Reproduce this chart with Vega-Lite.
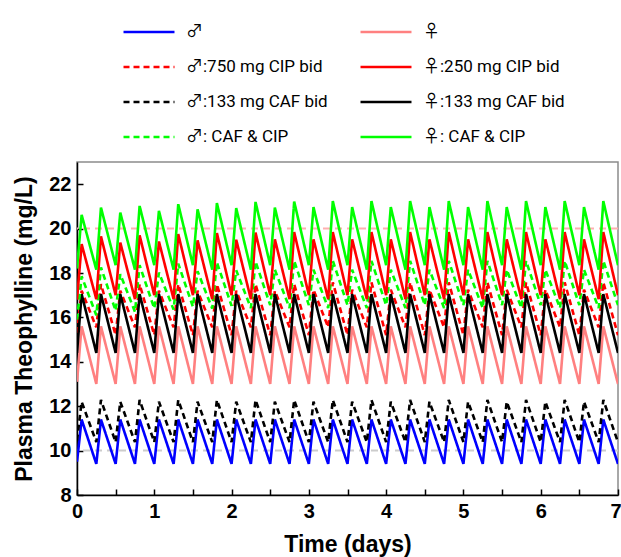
{
"$schema":"https://vega.github.io/schema/vega-lite/v6.json",
"width":541,"height":333,
"autosize":{"type":"none"},
"padding":{"left":77,"top":162,"right":3,"bottom":62},
"background":"white",
"config":{
"view":{"stroke":"#8c8c8c","strokeWidth":1.5},
"font":"Liberation Sans",
"axis":{"domainColor":"#000","domainWidth":1.5,"tickColor":"#000","tickWidth":1.5,"tickSize":-6,"labelFont":"Liberation Sans","labelFontWeight":"bold","labelFontSize":20,"labelColor":"#000","titleFont":"Liberation Sans","titleFontSize":23,"titleFontWeight":"bold","titleColor":"#000","grid":false},
"legend":{"orient":"none","legendX":45,"legendY":-157,"columns":2,"symbolType":"stroke","symbolSize":2600,"symbolStrokeWidth":2.5,"labelFontSize":17,"labelFont":"Roboto, 'Noto Sans CJK SC'","labelColor":"#000","labelOffset":10,"rowPadding":-11.2,"columnPadding":27,"padding":0,"labelLimit":0}
},
"datasets":{
"limits":[{"limit":"lower","level":10},{"limit":"upper","level":20}],
"curves":[
{"s":"♂","t":0,"v":9.5},{"s":"♂","t":0.06,"v":11.4},{"s":"♂","t":0.25,"v":9.4},{"s":"♂","t":0.31,"v":11.4},{"s":"♂","t":0.5,"v":9.4},{"s":"♂","t":0.56,"v":11.4},{"s":"♂","t":0.75,"v":9.4},{"s":"♂","t":0.81,"v":11.4},{"s":"♂","t":1,"v":9.4},{"s":"♂","t":1.06,"v":11.4},{"s":"♂","t":1.25,"v":9.4},{"s":"♂","t":1.31,"v":11.4},{"s":"♂","t":1.5,"v":9.4},{"s":"♂","t":1.56,"v":11.4},{"s":"♂","t":1.75,"v":9.4},{"s":"♂","t":1.81,"v":11.4},{"s":"♂","t":2,"v":9.4},{"s":"♂","t":2.06,"v":11.4},{"s":"♂","t":2.25,"v":9.4},{"s":"♂","t":2.31,"v":11.4},{"s":"♂","t":2.5,"v":9.4},{"s":"♂","t":2.56,"v":11.4},{"s":"♂","t":2.75,"v":9.4},{"s":"♂","t":2.81,"v":11.4},{"s":"♂","t":3,"v":9.4},{"s":"♂","t":3.06,"v":11.4},{"s":"♂","t":3.25,"v":9.4},{"s":"♂","t":3.31,"v":11.4},{"s":"♂","t":3.5,"v":9.4},{"s":"♂","t":3.56,"v":11.4},{"s":"♂","t":3.75,"v":9.4},{"s":"♂","t":3.81,"v":11.4},{"s":"♂","t":4,"v":9.4},{"s":"♂","t":4.06,"v":11.4},{"s":"♂","t":4.25,"v":9.4},{"s":"♂","t":4.31,"v":11.4},{"s":"♂","t":4.5,"v":9.4},{"s":"♂","t":4.56,"v":11.4},{"s":"♂","t":4.75,"v":9.4},{"s":"♂","t":4.81,"v":11.4},{"s":"♂","t":5,"v":9.4},{"s":"♂","t":5.06,"v":11.4},{"s":"♂","t":5.25,"v":9.4},{"s":"♂","t":5.31,"v":11.4},{"s":"♂","t":5.5,"v":9.4},{"s":"♂","t":5.56,"v":11.4},{"s":"♂","t":5.75,"v":9.4},{"s":"♂","t":5.81,"v":11.4},{"s":"♂","t":6,"v":9.4},{"s":"♂","t":6.06,"v":11.4},{"s":"♂","t":6.25,"v":9.4},{"s":"♂","t":6.31,"v":11.4},{"s":"♂","t":6.5,"v":9.4},{"s":"♂","t":6.56,"v":11.4},{"s":"♂","t":6.75,"v":9.4},{"s":"♂","t":6.81,"v":11.4},{"s":"♂","t":7,"v":9.4},
{"s":"♂:133 mg CAF bid","t":0,"v":10.45},{"s":"♂:133 mg CAF bid","t":0.06,"v":12.2},{"s":"♂:133 mg CAF bid","t":0.25,"v":10.38},{"s":"♂:133 mg CAF bid","t":0.31,"v":12.28},{"s":"♂:133 mg CAF bid","t":0.5,"v":10.38},{"s":"♂:133 mg CAF bid","t":0.56,"v":12.2},{"s":"♂:133 mg CAF bid","t":0.75,"v":10.38},{"s":"♂:133 mg CAF bid","t":0.81,"v":12.28},{"s":"♂:133 mg CAF bid","t":1,"v":10.38},{"s":"♂:133 mg CAF bid","t":1.06,"v":12.2},{"s":"♂:133 mg CAF bid","t":1.25,"v":10.38},{"s":"♂:133 mg CAF bid","t":1.31,"v":12.28},{"s":"♂:133 mg CAF bid","t":1.5,"v":10.38},{"s":"♂:133 mg CAF bid","t":1.56,"v":12.2},{"s":"♂:133 mg CAF bid","t":1.75,"v":10.38},{"s":"♂:133 mg CAF bid","t":1.81,"v":12.28},{"s":"♂:133 mg CAF bid","t":2,"v":10.38},{"s":"♂:133 mg CAF bid","t":2.06,"v":12.2},{"s":"♂:133 mg CAF bid","t":2.25,"v":10.38},{"s":"♂:133 mg CAF bid","t":2.31,"v":12.28},{"s":"♂:133 mg CAF bid","t":2.5,"v":10.38},{"s":"♂:133 mg CAF bid","t":2.56,"v":12.2},{"s":"♂:133 mg CAF bid","t":2.75,"v":10.38},{"s":"♂:133 mg CAF bid","t":2.81,"v":12.28},{"s":"♂:133 mg CAF bid","t":3,"v":10.38},{"s":"♂:133 mg CAF bid","t":3.06,"v":12.2},{"s":"♂:133 mg CAF bid","t":3.25,"v":10.38},{"s":"♂:133 mg CAF bid","t":3.31,"v":12.28},{"s":"♂:133 mg CAF bid","t":3.5,"v":10.38},{"s":"♂:133 mg CAF bid","t":3.56,"v":12.2},{"s":"♂:133 mg CAF bid","t":3.75,"v":10.38},{"s":"♂:133 mg CAF bid","t":3.81,"v":12.28},{"s":"♂:133 mg CAF bid","t":4,"v":10.38},{"s":"♂:133 mg CAF bid","t":4.06,"v":12.2},{"s":"♂:133 mg CAF bid","t":4.25,"v":10.38},{"s":"♂:133 mg CAF bid","t":4.31,"v":12.28},{"s":"♂:133 mg CAF bid","t":4.5,"v":10.38},{"s":"♂:133 mg CAF bid","t":4.56,"v":12.2},{"s":"♂:133 mg CAF bid","t":4.75,"v":10.38},{"s":"♂:133 mg CAF bid","t":4.81,"v":12.28},{"s":"♂:133 mg CAF bid","t":5,"v":10.38},{"s":"♂:133 mg CAF bid","t":5.06,"v":12.2},{"s":"♂:133 mg CAF bid","t":5.25,"v":10.38},{"s":"♂:133 mg CAF bid","t":5.31,"v":12.28},{"s":"♂:133 mg CAF bid","t":5.5,"v":10.38},{"s":"♂:133 mg CAF bid","t":5.56,"v":12.2},{"s":"♂:133 mg CAF bid","t":5.75,"v":10.38},{"s":"♂:133 mg CAF bid","t":5.81,"v":12.28},{"s":"♂:133 mg CAF bid","t":6,"v":10.38},{"s":"♂:133 mg CAF bid","t":6.06,"v":12.2},{"s":"♂:133 mg CAF bid","t":6.25,"v":10.38},{"s":"♂:133 mg CAF bid","t":6.31,"v":12.28},{"s":"♂:133 mg CAF bid","t":6.5,"v":10.38},{"s":"♂:133 mg CAF bid","t":6.56,"v":12.2},{"s":"♂:133 mg CAF bid","t":6.75,"v":10.38},{"s":"♂:133 mg CAF bid","t":6.81,"v":12.28},{"s":"♂:133 mg CAF bid","t":7,"v":10.38},
{"s":"♀","t":0,"v":13.1},{"s":"♀","t":0.06,"v":15.6},{"s":"♀","t":0.25,"v":13.0},{"s":"♀","t":0.31,"v":15.6},{"s":"♀","t":0.5,"v":13.0},{"s":"♀","t":0.56,"v":15.6},{"s":"♀","t":0.75,"v":13.0},{"s":"♀","t":0.81,"v":15.6},{"s":"♀","t":1,"v":13.0},{"s":"♀","t":1.06,"v":15.6},{"s":"♀","t":1.25,"v":13.0},{"s":"♀","t":1.31,"v":15.6},{"s":"♀","t":1.5,"v":13.0},{"s":"♀","t":1.56,"v":15.6},{"s":"♀","t":1.75,"v":13.0},{"s":"♀","t":1.81,"v":15.6},{"s":"♀","t":2,"v":13.0},{"s":"♀","t":2.06,"v":15.6},{"s":"♀","t":2.25,"v":13.0},{"s":"♀","t":2.31,"v":15.6},{"s":"♀","t":2.5,"v":13.0},{"s":"♀","t":2.56,"v":15.6},{"s":"♀","t":2.75,"v":13.0},{"s":"♀","t":2.81,"v":15.6},{"s":"♀","t":3,"v":13.0},{"s":"♀","t":3.06,"v":15.6},{"s":"♀","t":3.25,"v":13.0},{"s":"♀","t":3.31,"v":15.6},{"s":"♀","t":3.5,"v":13.0},{"s":"♀","t":3.56,"v":15.6},{"s":"♀","t":3.75,"v":13.0},{"s":"♀","t":3.81,"v":15.6},{"s":"♀","t":4,"v":13.0},{"s":"♀","t":4.06,"v":15.6},{"s":"♀","t":4.25,"v":13.0},{"s":"♀","t":4.31,"v":15.6},{"s":"♀","t":4.5,"v":13.0},{"s":"♀","t":4.56,"v":15.6},{"s":"♀","t":4.75,"v":13.0},{"s":"♀","t":4.81,"v":15.6},{"s":"♀","t":5,"v":13.0},{"s":"♀","t":5.06,"v":15.6},{"s":"♀","t":5.25,"v":13.0},{"s":"♀","t":5.31,"v":15.6},{"s":"♀","t":5.5,"v":13.0},{"s":"♀","t":5.56,"v":15.6},{"s":"♀","t":5.75,"v":13.0},{"s":"♀","t":5.81,"v":15.6},{"s":"♀","t":6,"v":13.0},{"s":"♀","t":6.06,"v":15.6},{"s":"♀","t":6.25,"v":13.0},{"s":"♀","t":6.31,"v":15.6},{"s":"♀","t":6.5,"v":13.0},{"s":"♀","t":6.56,"v":15.6},{"s":"♀","t":6.75,"v":13.0},{"s":"♀","t":6.81,"v":15.6},{"s":"♀","t":7,"v":13.0},
{"s":"♂:750 mg CIP bid","t":0,"v":15.3},{"s":"♂:750 mg CIP bid","t":0.06,"v":17.2},{"s":"♂:750 mg CIP bid","t":0.25,"v":15.55},{"s":"♂:750 mg CIP bid","t":0.31,"v":17.5},{"s":"♂:750 mg CIP bid","t":0.5,"v":15.2},{"s":"♂:750 mg CIP bid","t":0.56,"v":17.2},{"s":"♂:750 mg CIP bid","t":0.75,"v":15.55},{"s":"♂:750 mg CIP bid","t":0.81,"v":17.5},{"s":"♂:750 mg CIP bid","t":1,"v":15.2},{"s":"♂:750 mg CIP bid","t":1.06,"v":17.2},{"s":"♂:750 mg CIP bid","t":1.25,"v":15.55},{"s":"♂:750 mg CIP bid","t":1.31,"v":17.5},{"s":"♂:750 mg CIP bid","t":1.5,"v":15.2},{"s":"♂:750 mg CIP bid","t":1.56,"v":17.2},{"s":"♂:750 mg CIP bid","t":1.75,"v":15.55},{"s":"♂:750 mg CIP bid","t":1.81,"v":17.5},{"s":"♂:750 mg CIP bid","t":2,"v":15.2},{"s":"♂:750 mg CIP bid","t":2.06,"v":17.2},{"s":"♂:750 mg CIP bid","t":2.25,"v":15.55},{"s":"♂:750 mg CIP bid","t":2.31,"v":17.5},{"s":"♂:750 mg CIP bid","t":2.5,"v":15.2},{"s":"♂:750 mg CIP bid","t":2.56,"v":17.2},{"s":"♂:750 mg CIP bid","t":2.75,"v":15.55},{"s":"♂:750 mg CIP bid","t":2.81,"v":17.5},{"s":"♂:750 mg CIP bid","t":3,"v":15.2},{"s":"♂:750 mg CIP bid","t":3.06,"v":17.25},{"s":"♂:750 mg CIP bid","t":3.25,"v":15.55},{"s":"♂:750 mg CIP bid","t":3.31,"v":17.58},{"s":"♂:750 mg CIP bid","t":3.5,"v":15.2},{"s":"♂:750 mg CIP bid","t":3.56,"v":17.25},{"s":"♂:750 mg CIP bid","t":3.75,"v":15.55},{"s":"♂:750 mg CIP bid","t":3.81,"v":17.58},{"s":"♂:750 mg CIP bid","t":4,"v":15.2},{"s":"♂:750 mg CIP bid","t":4.06,"v":17.25},{"s":"♂:750 mg CIP bid","t":4.25,"v":15.55},{"s":"♂:750 mg CIP bid","t":4.31,"v":17.58},{"s":"♂:750 mg CIP bid","t":4.5,"v":15.2},{"s":"♂:750 mg CIP bid","t":4.56,"v":17.25},{"s":"♂:750 mg CIP bid","t":4.75,"v":15.55},{"s":"♂:750 mg CIP bid","t":4.81,"v":17.58},{"s":"♂:750 mg CIP bid","t":5,"v":15.2},{"s":"♂:750 mg CIP bid","t":5.06,"v":17.25},{"s":"♂:750 mg CIP bid","t":5.25,"v":15.55},{"s":"♂:750 mg CIP bid","t":5.31,"v":17.58},{"s":"♂:750 mg CIP bid","t":5.5,"v":15.2},{"s":"♂:750 mg CIP bid","t":5.56,"v":17.25},{"s":"♂:750 mg CIP bid","t":5.75,"v":15.55},{"s":"♂:750 mg CIP bid","t":5.81,"v":17.58},{"s":"♂:750 mg CIP bid","t":6,"v":15.2},{"s":"♂:750 mg CIP bid","t":6.06,"v":17.25},{"s":"♂:750 mg CIP bid","t":6.25,"v":15.55},{"s":"♂:750 mg CIP bid","t":6.31,"v":17.58},{"s":"♂:750 mg CIP bid","t":6.5,"v":15.2},{"s":"♂:750 mg CIP bid","t":6.56,"v":17.25},{"s":"♂:750 mg CIP bid","t":6.75,"v":15.55},{"s":"♂:750 mg CIP bid","t":6.81,"v":17.58},{"s":"♂:750 mg CIP bid","t":7,"v":15.2},
{"s":"♀:133 mg CAF bid","t":0,"v":14.4},{"s":"♀:133 mg CAF bid","t":0.06,"v":17.05},{"s":"♀:133 mg CAF bid","t":0.25,"v":14.4},{"s":"♀:133 mg CAF bid","t":0.31,"v":17.05},{"s":"♀:133 mg CAF bid","t":0.5,"v":14.4},{"s":"♀:133 mg CAF bid","t":0.56,"v":17.05},{"s":"♀:133 mg CAF bid","t":0.75,"v":14.4},{"s":"♀:133 mg CAF bid","t":0.81,"v":17.05},{"s":"♀:133 mg CAF bid","t":1,"v":14.4},{"s":"♀:133 mg CAF bid","t":1.06,"v":17.05},{"s":"♀:133 mg CAF bid","t":1.25,"v":14.4},{"s":"♀:133 mg CAF bid","t":1.31,"v":17.05},{"s":"♀:133 mg CAF bid","t":1.5,"v":14.4},{"s":"♀:133 mg CAF bid","t":1.56,"v":17.05},{"s":"♀:133 mg CAF bid","t":1.75,"v":14.4},{"s":"♀:133 mg CAF bid","t":1.81,"v":17.05},{"s":"♀:133 mg CAF bid","t":2,"v":14.4},{"s":"♀:133 mg CAF bid","t":2.06,"v":17.05},{"s":"♀:133 mg CAF bid","t":2.25,"v":14.4},{"s":"♀:133 mg CAF bid","t":2.31,"v":17.05},{"s":"♀:133 mg CAF bid","t":2.5,"v":14.4},{"s":"♀:133 mg CAF bid","t":2.56,"v":17.05},{"s":"♀:133 mg CAF bid","t":2.75,"v":14.4},{"s":"♀:133 mg CAF bid","t":2.81,"v":17.05},{"s":"♀:133 mg CAF bid","t":3,"v":14.4},{"s":"♀:133 mg CAF bid","t":3.06,"v":17.05},{"s":"♀:133 mg CAF bid","t":3.25,"v":14.4},{"s":"♀:133 mg CAF bid","t":3.31,"v":17.05},{"s":"♀:133 mg CAF bid","t":3.5,"v":14.4},{"s":"♀:133 mg CAF bid","t":3.56,"v":17.05},{"s":"♀:133 mg CAF bid","t":3.75,"v":14.4},{"s":"♀:133 mg CAF bid","t":3.81,"v":17.05},{"s":"♀:133 mg CAF bid","t":4,"v":14.4},{"s":"♀:133 mg CAF bid","t":4.06,"v":17.05},{"s":"♀:133 mg CAF bid","t":4.25,"v":14.4},{"s":"♀:133 mg CAF bid","t":4.31,"v":17.05},{"s":"♀:133 mg CAF bid","t":4.5,"v":14.4},{"s":"♀:133 mg CAF bid","t":4.56,"v":17.05},{"s":"♀:133 mg CAF bid","t":4.75,"v":14.4},{"s":"♀:133 mg CAF bid","t":4.81,"v":17.05},{"s":"♀:133 mg CAF bid","t":5,"v":14.4},{"s":"♀:133 mg CAF bid","t":5.06,"v":17.05},{"s":"♀:133 mg CAF bid","t":5.25,"v":14.4},{"s":"♀:133 mg CAF bid","t":5.31,"v":17.05},{"s":"♀:133 mg CAF bid","t":5.5,"v":14.4},{"s":"♀:133 mg CAF bid","t":5.56,"v":17.05},{"s":"♀:133 mg CAF bid","t":5.75,"v":14.4},{"s":"♀:133 mg CAF bid","t":5.81,"v":17.05},{"s":"♀:133 mg CAF bid","t":6,"v":14.4},{"s":"♀:133 mg CAF bid","t":6.06,"v":17.05},{"s":"♀:133 mg CAF bid","t":6.25,"v":14.4},{"s":"♀:133 mg CAF bid","t":6.31,"v":17.05},{"s":"♀:133 mg CAF bid","t":6.5,"v":14.4},{"s":"♀:133 mg CAF bid","t":6.56,"v":17.05},{"s":"♀:133 mg CAF bid","t":6.75,"v":14.4},{"s":"♀:133 mg CAF bid","t":6.81,"v":17.05},{"s":"♀:133 mg CAF bid","t":7,"v":14.4},
{"s":"♂: CAF & CIP","t":0,"v":15.9},{"s":"♂: CAF & CIP","t":0.06,"v":17.85},{"s":"♂: CAF & CIP","t":0.25,"v":16.1},{"s":"♂: CAF & CIP","t":0.31,"v":18.25},{"s":"♂: CAF & CIP","t":0.5,"v":16.3},{"s":"♂: CAF & CIP","t":0.56,"v":17.95},{"s":"♂: CAF & CIP","t":0.75,"v":16.25},{"s":"♂: CAF & CIP","t":0.81,"v":18.35},{"s":"♂: CAF & CIP","t":1,"v":16.4},{"s":"♂: CAF & CIP","t":1.06,"v":18.02},{"s":"♂: CAF & CIP","t":1.25,"v":16.35},{"s":"♂: CAF & CIP","t":1.31,"v":18.42},{"s":"♂: CAF & CIP","t":1.5,"v":16.48},{"s":"♂: CAF & CIP","t":1.56,"v":18.08},{"s":"♂: CAF & CIP","t":1.75,"v":16.4},{"s":"♂: CAF & CIP","t":1.81,"v":18.48},{"s":"♂: CAF & CIP","t":2,"v":16.52},{"s":"♂: CAF & CIP","t":2.06,"v":18.12},{"s":"♂: CAF & CIP","t":2.25,"v":16.42},{"s":"♂: CAF & CIP","t":2.31,"v":18.52},{"s":"♂: CAF & CIP","t":2.5,"v":16.55},{"s":"♂: CAF & CIP","t":2.56,"v":18.15},{"s":"♂: CAF & CIP","t":2.75,"v":16.42},{"s":"♂: CAF & CIP","t":2.81,"v":18.55},{"s":"♂: CAF & CIP","t":3,"v":16.55},{"s":"♂: CAF & CIP","t":3.06,"v":18.15},{"s":"♂: CAF & CIP","t":3.25,"v":16.42},{"s":"♂: CAF & CIP","t":3.31,"v":18.55},{"s":"♂: CAF & CIP","t":3.5,"v":16.55},{"s":"♂: CAF & CIP","t":3.56,"v":18.15},{"s":"♂: CAF & CIP","t":3.75,"v":16.42},{"s":"♂: CAF & CIP","t":3.81,"v":18.55},{"s":"♂: CAF & CIP","t":4,"v":16.55},{"s":"♂: CAF & CIP","t":4.06,"v":18.15},{"s":"♂: CAF & CIP","t":4.25,"v":16.42},{"s":"♂: CAF & CIP","t":4.31,"v":18.55},{"s":"♂: CAF & CIP","t":4.5,"v":16.55},{"s":"♂: CAF & CIP","t":4.56,"v":18.15},{"s":"♂: CAF & CIP","t":4.75,"v":16.42},{"s":"♂: CAF & CIP","t":4.81,"v":18.55},{"s":"♂: CAF & CIP","t":5,"v":16.55},{"s":"♂: CAF & CIP","t":5.06,"v":18.15},{"s":"♂: CAF & CIP","t":5.25,"v":16.42},{"s":"♂: CAF & CIP","t":5.31,"v":18.55},{"s":"♂: CAF & CIP","t":5.5,"v":16.55},{"s":"♂: CAF & CIP","t":5.56,"v":18.15},{"s":"♂: CAF & CIP","t":5.75,"v":16.42},{"s":"♂: CAF & CIP","t":5.81,"v":18.55},{"s":"♂: CAF & CIP","t":6,"v":16.55},{"s":"♂: CAF & CIP","t":6.06,"v":18.15},{"s":"♂: CAF & CIP","t":6.25,"v":16.42},{"s":"♂: CAF & CIP","t":6.31,"v":18.55},{"s":"♂: CAF & CIP","t":6.5,"v":16.55},{"s":"♂: CAF & CIP","t":6.56,"v":18.15},{"s":"♂: CAF & CIP","t":6.75,"v":16.42},{"s":"♂: CAF & CIP","t":6.81,"v":18.55},{"s":"♂: CAF & CIP","t":7,"v":16.55},
{"s":"♀:250 mg CIP bid","t":0,"v":16.8},{"s":"♀:250 mg CIP bid","t":0.06,"v":19.3},{"s":"♀:250 mg CIP bid","t":0.25,"v":16.82},{"s":"♀:250 mg CIP bid","t":0.31,"v":19.65},{"s":"♀:250 mg CIP bid","t":0.5,"v":17.0},{"s":"♀:250 mg CIP bid","t":0.56,"v":19.37},{"s":"♀:250 mg CIP bid","t":0.75,"v":16.82},{"s":"♀:250 mg CIP bid","t":0.81,"v":19.7},{"s":"♀:250 mg CIP bid","t":1,"v":17.0},{"s":"♀:250 mg CIP bid","t":1.06,"v":19.42},{"s":"♀:250 mg CIP bid","t":1.25,"v":16.82},{"s":"♀:250 mg CIP bid","t":1.31,"v":19.75},{"s":"♀:250 mg CIP bid","t":1.5,"v":17.0},{"s":"♀:250 mg CIP bid","t":1.56,"v":19.47},{"s":"♀:250 mg CIP bid","t":1.75,"v":16.82},{"s":"♀:250 mg CIP bid","t":1.81,"v":19.8},{"s":"♀:250 mg CIP bid","t":2,"v":17.0},{"s":"♀:250 mg CIP bid","t":2.06,"v":19.5},{"s":"♀:250 mg CIP bid","t":2.25,"v":16.82},{"s":"♀:250 mg CIP bid","t":2.31,"v":19.82},{"s":"♀:250 mg CIP bid","t":2.5,"v":17.0},{"s":"♀:250 mg CIP bid","t":2.56,"v":19.52},{"s":"♀:250 mg CIP bid","t":2.75,"v":16.82},{"s":"♀:250 mg CIP bid","t":2.81,"v":19.84},{"s":"♀:250 mg CIP bid","t":3,"v":17.0},{"s":"♀:250 mg CIP bid","t":3.06,"v":19.52},{"s":"♀:250 mg CIP bid","t":3.25,"v":16.82},{"s":"♀:250 mg CIP bid","t":3.31,"v":19.84},{"s":"♀:250 mg CIP bid","t":3.5,"v":17.0},{"s":"♀:250 mg CIP bid","t":3.56,"v":19.52},{"s":"♀:250 mg CIP bid","t":3.75,"v":16.82},{"s":"♀:250 mg CIP bid","t":3.81,"v":19.84},{"s":"♀:250 mg CIP bid","t":4,"v":17.0},{"s":"♀:250 mg CIP bid","t":4.06,"v":19.52},{"s":"♀:250 mg CIP bid","t":4.25,"v":16.82},{"s":"♀:250 mg CIP bid","t":4.31,"v":19.84},{"s":"♀:250 mg CIP bid","t":4.5,"v":17.0},{"s":"♀:250 mg CIP bid","t":4.56,"v":19.52},{"s":"♀:250 mg CIP bid","t":4.75,"v":16.82},{"s":"♀:250 mg CIP bid","t":4.81,"v":19.84},{"s":"♀:250 mg CIP bid","t":5,"v":17.0},{"s":"♀:250 mg CIP bid","t":5.06,"v":19.52},{"s":"♀:250 mg CIP bid","t":5.25,"v":16.82},{"s":"♀:250 mg CIP bid","t":5.31,"v":19.84},{"s":"♀:250 mg CIP bid","t":5.5,"v":17.0},{"s":"♀:250 mg CIP bid","t":5.56,"v":19.52},{"s":"♀:250 mg CIP bid","t":5.75,"v":16.82},{"s":"♀:250 mg CIP bid","t":5.81,"v":19.84},{"s":"♀:250 mg CIP bid","t":6,"v":17.0},{"s":"♀:250 mg CIP bid","t":6.06,"v":19.52},{"s":"♀:250 mg CIP bid","t":6.25,"v":16.82},{"s":"♀:250 mg CIP bid","t":6.31,"v":19.84},{"s":"♀:250 mg CIP bid","t":6.5,"v":17.0},{"s":"♀:250 mg CIP bid","t":6.56,"v":19.52},{"s":"♀:250 mg CIP bid","t":6.75,"v":16.82},{"s":"♀:250 mg CIP bid","t":6.81,"v":19.84},{"s":"♀:250 mg CIP bid","t":7,"v":17.0},
{"s":"♀: CAF & CIP","t":0,"v":18.2},{"s":"♀: CAF & CIP","t":0.06,"v":20.62},{"s":"♀: CAF & CIP","t":0.25,"v":18.15},{"s":"♀: CAF & CIP","t":0.31,"v":20.95},{"s":"♀: CAF & CIP","t":0.5,"v":18.35},{"s":"♀: CAF & CIP","t":0.56,"v":20.72},{"s":"♀: CAF & CIP","t":0.75,"v":18.15},{"s":"♀: CAF & CIP","t":0.81,"v":21.02},{"s":"♀: CAF & CIP","t":1,"v":18.35},{"s":"♀: CAF & CIP","t":1.06,"v":20.8},{"s":"♀: CAF & CIP","t":1.25,"v":18.15},{"s":"♀: CAF & CIP","t":1.31,"v":21.1},{"s":"♀: CAF & CIP","t":1.5,"v":18.35},{"s":"♀: CAF & CIP","t":1.56,"v":20.87},{"s":"♀: CAF & CIP","t":1.75,"v":18.15},{"s":"♀: CAF & CIP","t":1.81,"v":21.15},{"s":"♀: CAF & CIP","t":2,"v":18.35},{"s":"♀: CAF & CIP","t":2.06,"v":20.92},{"s":"♀: CAF & CIP","t":2.25,"v":18.15},{"s":"♀: CAF & CIP","t":2.31,"v":21.2},{"s":"♀: CAF & CIP","t":2.5,"v":18.35},{"s":"♀: CAF & CIP","t":2.56,"v":20.95},{"s":"♀: CAF & CIP","t":2.75,"v":18.15},{"s":"♀: CAF & CIP","t":2.81,"v":21.22},{"s":"♀: CAF & CIP","t":3,"v":18.35},{"s":"♀: CAF & CIP","t":3.06,"v":20.97},{"s":"♀: CAF & CIP","t":3.25,"v":18.15},{"s":"♀: CAF & CIP","t":3.31,"v":21.24},{"s":"♀: CAF & CIP","t":3.5,"v":18.35},{"s":"♀: CAF & CIP","t":3.56,"v":20.97},{"s":"♀: CAF & CIP","t":3.75,"v":18.15},{"s":"♀: CAF & CIP","t":3.81,"v":21.24},{"s":"♀: CAF & CIP","t":4,"v":18.35},{"s":"♀: CAF & CIP","t":4.06,"v":20.97},{"s":"♀: CAF & CIP","t":4.25,"v":18.15},{"s":"♀: CAF & CIP","t":4.31,"v":21.24},{"s":"♀: CAF & CIP","t":4.5,"v":18.35},{"s":"♀: CAF & CIP","t":4.56,"v":20.97},{"s":"♀: CAF & CIP","t":4.75,"v":18.15},{"s":"♀: CAF & CIP","t":4.81,"v":21.24},{"s":"♀: CAF & CIP","t":5,"v":18.35},{"s":"♀: CAF & CIP","t":5.06,"v":20.97},{"s":"♀: CAF & CIP","t":5.25,"v":18.15},{"s":"♀: CAF & CIP","t":5.31,"v":21.24},{"s":"♀: CAF & CIP","t":5.5,"v":18.35},{"s":"♀: CAF & CIP","t":5.56,"v":20.97},{"s":"♀: CAF & CIP","t":5.75,"v":18.15},{"s":"♀: CAF & CIP","t":5.81,"v":21.24},{"s":"♀: CAF & CIP","t":6,"v":18.35},{"s":"♀: CAF & CIP","t":6.06,"v":20.97},{"s":"♀: CAF & CIP","t":6.25,"v":18.15},{"s":"♀: CAF & CIP","t":6.31,"v":21.24},{"s":"♀: CAF & CIP","t":6.5,"v":18.35},{"s":"♀: CAF & CIP","t":6.56,"v":20.97},{"s":"♀: CAF & CIP","t":6.75,"v":18.15},{"s":"♀: CAF & CIP","t":6.81,"v":21.24},{"s":"♀: CAF & CIP","t":7,"v":18.35}
]},
"layer":[
{"data":{"name":"limits"},"transform":[{"filter":"datum.limit === 'lower'"}],
 "mark":{"type":"rule","color":"#cccccc","strokeDash":[7,5],"strokeWidth":2},
 "encoding":{"y":{"field":"level","type":"quantitative","scale":{"domain":[8,23],"nice":false,"zero":false},"title":"Plasma Theophylline (mg/L)"}}},
{"data":{"name":"limits"},"transform":[{"filter":"datum.limit === 'upper'"}],
 "mark":{"type":"rule","color":"#ffb0b0","strokeDash":[7,5],"strokeWidth":2},
 "encoding":{"y":{"field":"level","type":"quantitative","title":"Plasma Theophylline (mg/L)"}}},
{"data":{"name":"curves"},
 "mark":{"type":"line","strokeWidth":2.6,"interpolate":"linear","clip":true},
 "encoding":{
  "x":{"field":"t","type":"quantitative","scale":{"domain":[0,7],"nice":false},"title":"Time (days)",
   "axis":{"values":[0,0.5,1,1.5,2,2.5,3,3.5,4,4.5,5,5.5,6,6.5,7],"labelExpr":"datum.value % 1 === 0 ? format(datum.value, 'd') : ''","labelPadding":12,"titlePadding":12,"labelFlush":false,
    "labelAlign":{"condition":{"test":"datum.value === 7","value":"right"},"value":"center"},
    "labelOffset":{"condition":{"test":"datum.value === 7","value":3},"value":0}}},
  "y":{"field":"v","type":"quantitative","title":"Plasma Theophylline (mg/L)",
   "axis":{"values":[8,9,10,11,12,13,14,15,16,17,18,19,20,21,22],"labelExpr":"datum.value % 2 === 0 ? format(datum.value, 'd') : ''","labelPadding":12,"titlePadding":12}},
  "color":{"field":"s","type":"nominal","legend":{"title":null},
   "scale":{"domain":["♂","♂:750 mg CIP bid","♂:133 mg CAF bid","♂: CAF & CIP","♀","♀:250 mg CIP bid","♀:133 mg CAF bid","♀: CAF & CIP"],
   "range":["#0000ff","#ff0000","#000000","#00ff00","#ff8080","#ff0000","#000000","#00ff00"]}},
  "strokeDash":{"field":"s","type":"nominal","legend":{"title":null},
   "scale":{"domain":["♂","♂:750 mg CIP bid","♂:133 mg CAF bid","♂: CAF & CIP","♀","♀:250 mg CIP bid","♀:133 mg CAF bid","♀: CAF & CIP"],
   "range":[[1,0],[6,4],[6,4],[6,4],[1,0],[1,0],[1,0],[1,0]]}}
 }}
]
}
